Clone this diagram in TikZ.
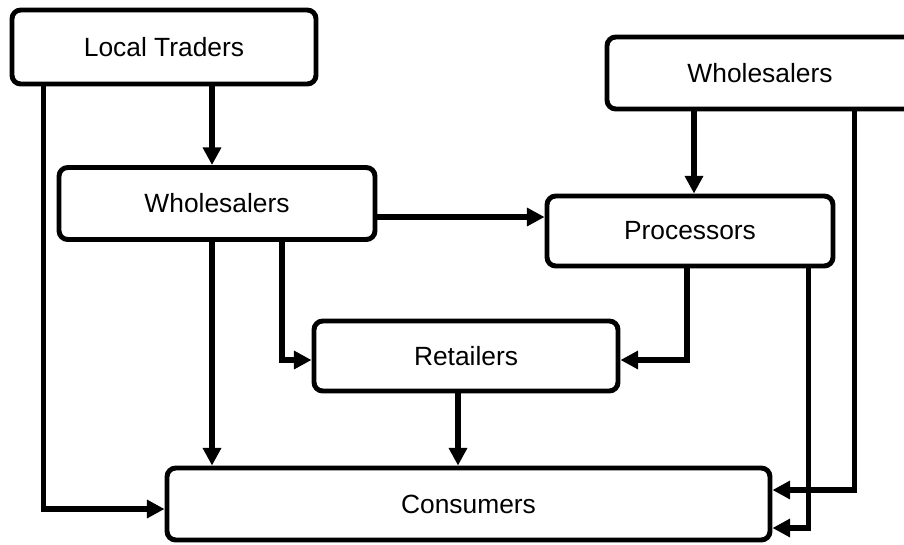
\documentclass[tikz,border=0pt]{standalone}
\usepackage{fontspec}
\setmainfont{Liberation Sans}
\usetikzlibrary{arrows.meta,calc}

\begin{document}
\begin{tikzpicture}[->,>={Triangle[length=10pt,width=10pt]},line width=3.1pt,
	block/.style={draw,rectangle,rounded corners=5pt,line width=2.8pt,inner sep=0pt,font=\fontsize{15}{18}\selectfont}]
		\clip (0,0) rectangle (18.08,-10.88);

		\node[block,minimum width=6.08cm,minimum height=1.48cm] (traders) at (3.28,-0.94) {Local Traders};
		\node[block,minimum width=6.32cm,minimum height=1.44cm] (wsA) at (4.34,-4.07) {Wholesalers};
		\node[block,minimum width=6.12cm,minimum height=1.44cm] (wsB) at (15.2,-1.46) {Wholesalers};
		\node[block,minimum width=5.72cm,minimum height=1.40cm] (proc) at (13.8,-4.62) {Processors};
		\node[block,minimum width=6.08cm,minimum height=1.40cm] (retail) at (9.32,-7.12) {Retailers};
		\node[block,minimum width=12.06cm,minimum height=1.44cm] (cons) at (9.37,-10.08) {Consumers};

		\draw ([xshift=-1mm]wsA.north |- traders.south) -- ([xshift=-1mm]wsA.north);
		\draw ([xshift=6.8mm]traders.south west) |- ([yshift=-1mm]cons.west);
		
		\draw ([xshift=-1mm]wsA.south) -- ([xshift=-1mm]wsA.south |- cons.north);
		\draw ([xshift=13mm]wsA.south) |- ([yshift=-0.8mm]retail.west);
		\draw ([yshift=-2.7mm]wsA.east) -- ([yshift=-2.7mm]wsA.east -| proc.west);
		
		\draw ([xshift=0.8mm]proc.north |- wsB.south) -- ([xshift=0.8mm]proc.north);
		\draw ([xshift=50mm]wsB.south west) |- ([yshift=2.8mm]cons.east);
		
		\draw ([xshift=-0.6mm]proc.south) |- ([yshift=-0.8mm]retail.east);
		\draw ([xshift=-5.4mm]proc.south east) |- ([yshift=-4.8mm]cons.east);
		
		\draw ([xshift=-1.6mm]retail.south) -- ([xshift=-1.6mm]retail.south |- cons.north);
		\end{tikzpicture}
\end{document}
